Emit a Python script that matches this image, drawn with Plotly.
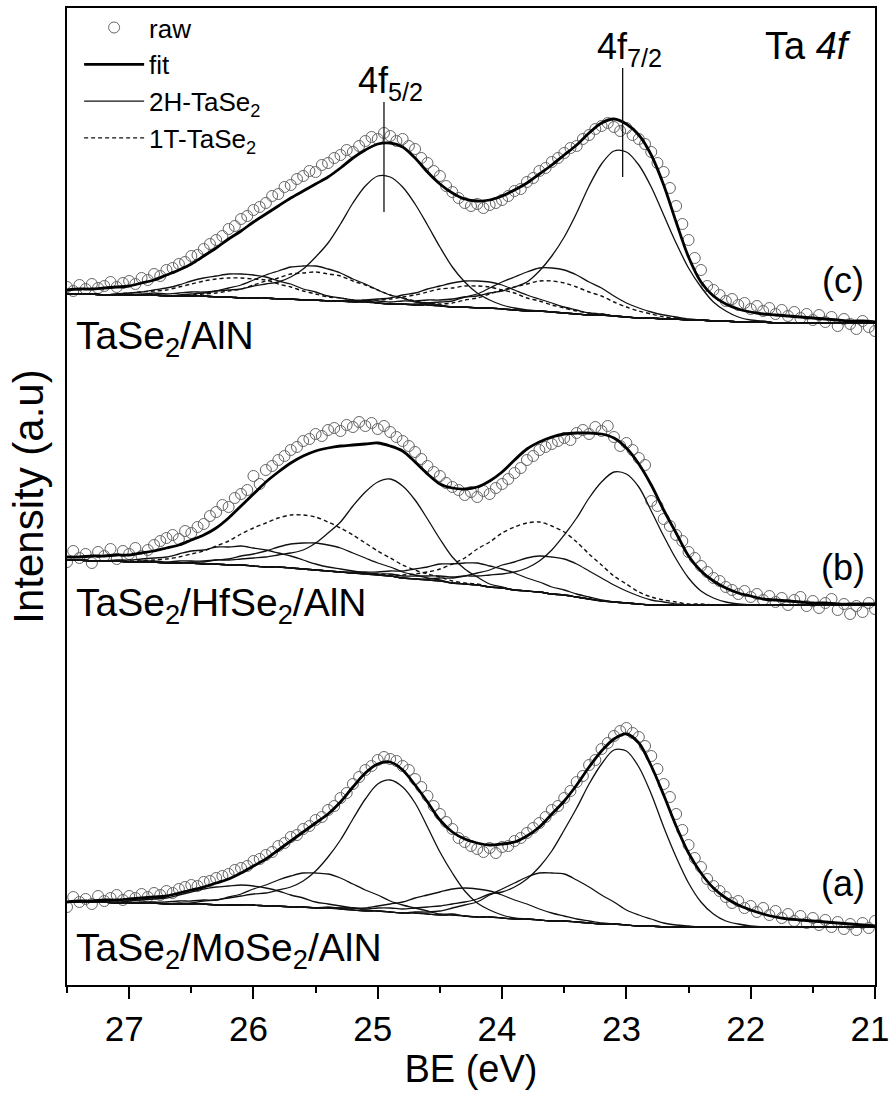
import plotly.graph_objects as go

# ---------------- x grids (binding energy, eV) ----------------
BE = [27.5, 27.4, 27.3, 27.2, 27.1, 27.0, 26.9, 26.8, 26.7, 26.6,
      26.5, 26.4, 26.3, 26.2, 26.1, 26.0, 25.9, 25.8, 25.7, 25.6,
      25.5, 25.4, 25.3, 25.2, 25.1, 25.0, 24.9, 24.8, 24.7, 24.6,
      24.5, 24.4, 24.3, 24.2, 24.1, 24.0, 23.9, 23.8, 23.7, 23.6,
      23.5, 23.4, 23.3, 23.2, 23.1, 23.0, 22.9, 22.8, 22.7, 22.6,
      22.5, 22.4, 22.3, 22.2, 22.1, 22.0, 21.9, 21.8, 21.7, 21.6,
      21.5, 21.4, 21.3, 21.2, 21.1, 21.0]

BE_RAW = [27.50, 27.45, 27.40, 27.35, 27.30, 27.25, 27.20, 27.15, 27.10, 27.05,
          27.00, 26.95, 26.90, 26.85, 26.80, 26.75, 26.70, 26.65, 26.60, 26.55,
          26.50, 26.45, 26.40, 26.35, 26.30, 26.25, 26.20, 26.15, 26.10, 26.05,
          26.00, 25.95, 25.90, 25.85, 25.80, 25.75, 25.70, 25.65, 25.60, 25.55,
          25.50, 25.45, 25.40, 25.35, 25.30, 25.25, 25.20, 25.15, 25.10, 25.05,
          25.00, 24.95, 24.90, 24.85, 24.80, 24.75, 24.70, 24.65, 24.60, 24.55,
          24.50, 24.45, 24.40, 24.35, 24.30, 24.25, 24.20, 24.15, 24.10, 24.05,
          24.00, 23.95, 23.90, 23.85, 23.80, 23.75, 23.70, 23.65, 23.60, 23.55,
          23.50, 23.45, 23.40, 23.35, 23.30, 23.25, 23.20, 23.15, 23.10, 23.05,
          23.00, 22.95, 22.90, 22.85, 22.80, 22.75, 22.70, 22.65, 22.60, 22.55,
          22.50, 22.45, 22.40, 22.35, 22.30, 22.25, 22.20, 22.15, 22.10, 22.05,
          22.00, 21.95, 21.90, 21.85, 21.80, 21.75, 21.70, 21.65, 21.60, 21.55,
          21.50, 21.45, 21.40, 21.35, 21.30, 21.25, 21.20, 21.15, 21.10, 21.05,
          21.00]

# ---------------- (c) TaSe2/AlN (offset, arbitrary units) ----------------
raw_c = [713, 709, 715, 711, 716, 712, 714, 718, 713, 717,
         719, 716, 722, 720, 726, 724, 730, 732, 736, 738,
         744, 745, 751, 756, 760, 764, 771, 774, 781, 784,
         790, 793, 797, 804, 806, 813, 815, 821, 824, 829,
         828, 835, 837, 842, 845, 850, 848, 854, 859, 863,
         861, 867, 864, 859, 861, 854, 851, 842, 837, 829,
         824, 814, 808, 802, 797, 794, 796, 792, 795, 797,
         800, 804, 809, 811, 818, 822, 829, 832, 838, 842,
         847, 852, 854, 861, 865, 871, 874, 877, 873, 869,
         872, 865, 861, 856, 848, 837, 828, 812, 794, 776,
         760, 742, 730, 714, 710, 705, 699, 701, 695, 697,
         691, 694, 689, 692, 686, 690, 684, 688, 682, 686,
         680, 685, 678, 683, 674, 681, 676, 671, 679, 673,
         669]
bg_c = [706, 706, 706, 705, 705, 705, 705, 705, 704, 704,
        704, 704, 703, 703, 702, 702, 702, 701, 701, 700,
        700, 699, 699, 698, 698, 697, 696, 696, 695, 695,
        694, 693, 693, 692, 692, 691, 690, 689, 689, 688,
        687, 686, 685, 685, 684, 683, 682, 682, 681, 681,
        680, 680, 679, 679, 678, 678, 678, 677, 677, 677,
        677, 677, 677, 677, 677, 677]
fit_c = [710, 711, 711, 712, 713, 714, 717, 720, 725, 730,
         736, 744, 752, 761, 769, 778, 786, 794, 802, 809,
         816, 823, 832, 842, 850, 856, 857, 853, 842, 828,
         816, 807, 801, 799, 800, 804, 810, 817, 826, 835,
         845, 855, 867, 877, 881, 876, 865, 845, 815, 778,
         743, 718, 704, 696, 691, 688, 686, 685, 684, 683,
         682, 681, 680, 679, 679, 678]
# component heights above the background
c_2h_52 = [0, 0, 0, 0, 1, 1, 1, 2, 2, 3,
           4, 4, 6, 7, 9, 12, 14, 17, 22, 31,
           43, 58, 77, 99, 116, 127, 127, 117, 101, 80,
           59, 40, 25, 15, 8, 4, 2, 1, 0, 0,
           0, 0, 0, 0, 0, 0, 0, 0, 0, 0,
           0, 0, 0, 0, 0, 0, 0, 0, 0, 0,
           0, 0, 0, 0, 0, 0]
c_2h_72 = [0, 0, 0, 0, 0, 0, 0, 0, 0, 0,
           0, 0, 0, 0, 0, 0, 0, 0, 0, 0,
           0, 0, 0, 1, 1, 2, 2, 3, 4, 5,
           6, 8, 10, 12, 15, 18, 23, 29, 40, 56,
           76, 101, 129, 151, 165, 165, 153, 131, 104, 76,
           52, 33, 19, 10, 5, 2, 1, 0, 0, 0,
           0, 0, 0, 0, 0, 0]
c_s1 = [0, 0, 0, 0, 1, 2, 3, 5, 8, 11,
        15, 18, 21, 23, 24, 23, 21, 18, 15, 11,
        8, 5, 3, 2, 1, 0, 0, 0, 0, 0,
        0, 0, 0, 0, 0, 0, 0, 0, 0, 0,
        0, 0, 0, 0, 0, 0, 0, 0, 0, 0,
        0, 0, 0, 0, 0, 0, 0, 0, 0, 0,
        0, 0, 0, 0, 0, 0]
c_d1 = [0, 0, 0, 0, 1, 2, 3, 4, 6, 9,
        12, 15, 18, 19, 20, 19, 18, 15, 12, 9,
        6, 4, 3, 2, 1, 0, 0, 0, 0, 0,
        0, 0, 0, 0, 0, 0, 0, 0, 0, 0,
        0, 0, 0, 0, 0, 0, 0, 0, 0, 0,
        0, 0, 0, 0, 0, 0, 0, 0, 0, 0,
        0, 0, 0, 0, 0, 0]
c_s2 = [0, 0, 0, 0, 0, 0, 0, 0, 0, 1,
        2, 3, 6, 9, 13, 18, 23, 28, 32, 34,
        34, 32, 28, 23, 18, 13, 9, 6, 3, 2,
        1, 0, 0, 0, 0, 0, 0, 0, 0, 0,
        0, 0, 0, 0, 0, 0, 0, 0, 0, 0,
        0, 0, 0, 0, 0, 0, 0, 0, 0, 0,
        0, 0, 0, 0, 0, 0]
c_d2 = [0, 0, 0, 0, 0, 0, 0, 0, 0, 0,
        1, 2, 4, 6, 9, 13, 17, 21, 25, 27,
        28, 27, 25, 21, 17, 13, 9, 6, 4, 2,
        1, 0, 0, 0, 0, 0, 0, 0, 0, 0,
        0, 0, 0, 0, 0, 0, 0, 0, 0, 0,
        0, 0, 0, 0, 0, 0, 0, 0, 0, 0,
        0, 0, 0, 0, 0, 0]
c_s3 = [0, 0, 0, 0, 0, 0, 0, 0, 0, 0,
        0, 0, 0, 0, 0, 0, 0, 0, 0, 0,
        0, 0, 0, 1, 2, 4, 6, 9, 12, 16,
        20, 24, 26, 27, 26, 24, 20, 16, 12, 9,
        6, 4, 2, 1, 0, 0, 0, 0, 0, 0,
        0, 0, 0, 0, 0, 0, 0, 0, 0, 0,
        0, 0, 0, 0, 0, 0]
c_d3 = [0, 0, 0, 0, 0, 0, 0, 0, 0, 0,
        0, 0, 0, 0, 0, 0, 0, 0, 0, 0,
        0, 0, 0, 1, 2, 3, 5, 7, 10, 13,
        17, 19, 21, 22, 21, 19, 17, 13, 10, 7,
        5, 3, 2, 1, 0, 0, 0, 0, 0, 0,
        0, 0, 0, 0, 0, 0, 0, 0, 0, 0,
        0, 0, 0, 0, 0, 0]
c_s4 = [0, 0, 0, 0, 0, 0, 0, 0, 0, 0,
        0, 0, 0, 0, 0, 0, 0, 0, 0, 0,
        0, 0, 0, 0, 0, 0, 0, 0, 1, 2,
        4, 6, 10, 14, 20, 27, 33, 39, 43, 44,
        43, 39, 33, 27, 20, 14, 10, 6, 4, 2,
        1, 0, 0, 0, 0, 0, 0, 0, 0, 0,
        0, 0, 0, 0, 0, 0]
c_d4 = [0, 0, 0, 0, 0, 0, 0, 0, 0, 0,
        0, 0, 0, 0, 0, 0, 0, 0, 0, 0,
        0, 0, 0, 0, 0, 0, 0, 0, 0, 1,
        2, 4, 7, 10, 14, 19, 23, 27, 30, 31,
        30, 27, 23, 19, 14, 10, 7, 4, 2, 1,
        0, 0, 0, 0, 0, 0, 0, 0, 0, 0,
        0, 0, 0, 0, 0, 0]

# ---------------- (b) TaSe2/HfSe2/AlN ----------------
raw_b = [438, 449, 442, 446, 437, 448, 444, 451, 441, 449,
         446, 452, 444, 450, 455, 459, 462, 465, 461, 469,
         467, 473, 476, 484, 488, 495, 493, 502, 506, 510,
         524, 516, 530, 534, 540, 544, 550, 553, 559, 561,
         566, 564, 570, 572, 569, 575, 573, 578, 574, 577,
         571, 574, 568, 563, 559, 554, 548, 541, 534, 528,
         524, 517, 513, 510, 505, 508, 503, 509, 506, 512,
         516, 521, 527, 532, 540, 544, 550, 553, 556, 559,
         562, 560, 567, 570, 566, 573, 569, 574, 563, 554,
         557, 550, 542, 535, 499, 494, 481, 474, 465, 459,
         448, 442, 434, 428, 422, 419, 413, 410, 406, 409,
         403, 406, 400, 404, 398, 402, 395, 400, 403, 394,
         399, 392, 397, 401, 390, 396, 386, 394, 388, 397,
         391]
bg_b = [440, 440, 439, 439, 439, 438, 438, 438, 437, 437,
        437, 436, 436, 435, 435, 434, 433, 433, 432, 431,
        430, 429, 428, 427, 426, 425, 424, 422, 421, 420,
        419, 417, 416, 415, 413, 412, 410, 409, 408, 406,
        405, 403, 401, 399, 398, 397, 396, 395, 395, 395,
        395, 395, 395, 395, 395, 395, 395, 395, 395, 395,
        395, 395, 395, 395, 395, 395]
fit_b = [443, 443, 444, 444, 445, 445, 447, 449, 452, 455,
         460, 465, 472, 482, 494, 506, 518, 528, 537, 544,
         549, 552, 554, 555, 556, 557, 554, 549, 538, 526,
         516, 512, 511, 513, 519, 528, 540, 551, 558, 563,
         566, 567, 567, 566, 562, 552, 536, 515, 490, 467,
         444, 429, 419, 412, 407, 404, 401, 400, 399, 398,
         397, 397, 396, 396, 396, 396]
b_2h_52 = [0, 0, 0, 0, 0, 0, 1, 1, 1, 2,
           2, 3, 4, 5, 6, 8, 10, 12, 15, 19,
           27, 38, 50, 67, 82, 93, 97, 92, 79, 61,
           42, 26, 15, 8, 3, 1, 0, 0, 0, 0,
           0, 0, 0, 0, 0, 0, 0, 0, 0, 0,
           0, 0, 0, 0, 0, 0, 0, 0, 0, 0,
           0, 0, 0, 0, 0, 0]
b_2h_72 = [0, 0, 0, 0, 0, 0, 0, 0, 0, 0,
           0, 0, 0, 0, 0, 0, 0, 0, 0, 0,
           0, 0, 0, 0, 1, 1, 2, 2, 3, 4,
           5, 6, 8, 9, 12, 14, 18, 23, 31, 44,
           60, 79, 101, 119, 130, 129, 117, 94, 69, 46,
           27, 14, 7, 3, 1, 0, 0, 0, 0, 0,
           0, 0, 0, 0, 0, 0]
b_1t_52 = [0, 0, 0, 0, 0, 1, 1, 2, 4, 6,
           9, 13, 18, 24, 31, 38, 44, 49, 53, 54,
           53, 49, 44, 38, 31, 24, 18, 13, 9, 6,
           4, 2, 1, 1, 0, 0, 0, 0, 0, 0,
           0, 0, 0, 0, 0, 0, 0, 0, 0, 0,
           0, 0, 0, 0, 0, 0, 0, 0, 0, 0,
           0, 0, 0, 0, 0, 0]
b_1t_72 = [0, 0, 0, 0, 0, 0, 0, 0, 0, 0,
           0, 0, 0, 0, 0, 0, 0, 0, 0, 0,
           0, 0, 0, 0, 0, 1, 1, 3, 5, 8,
           12, 19, 26, 36, 45, 55, 63, 68, 70, 68,
           63, 55, 45, 36, 26, 19, 12, 8, 5, 3,
           1, 1, 0, 0, 0, 0, 0, 0, 0, 0,
           0, 0, 0, 0, 0, 0]
b_s1 = [0, 0, 0, 0, 1, 2, 3, 4, 6, 9,
        12, 14, 17, 18, 19, 18, 17, 14, 12, 9,
        6, 4, 3, 2, 1, 0, 0, 0, 0, 0,
        0, 0, 0, 0, 0, 0, 0, 0, 0, 0,
        0, 0, 0, 0, 0, 0, 0, 0, 0, 0,
        0, 0, 0, 0, 0, 0, 0, 0, 0, 0,
        0, 0, 0, 0, 0, 0]
b_s2 = [0, 0, 0, 0, 0, 0, 0, 0, 0, 0,
        1, 2, 4, 6, 9, 12, 16, 20, 24, 26,
        27, 26, 24, 20, 16, 12, 9, 6, 4, 2,
        1, 0, 0, 0, 0, 0, 0, 0, 0, 0,
        0, 0, 0, 0, 0, 0, 0, 0, 0, 0,
        0, 0, 0, 0, 0, 0, 0, 0, 0, 0,
        0, 0, 0, 0, 0, 0]
b_s3 = [0, 0, 0, 0, 0, 0, 0, 0, 0, 0,
        0, 0, 0, 0, 0, 0, 0, 0, 0, 0,
        0, 0, 0, 1, 2, 3, 5, 7, 10, 13,
        17, 19, 21, 22, 21, 19, 17, 13, 10, 7,
        5, 3, 2, 1, 0, 0, 0, 0, 0, 0,
        0, 0, 0, 0, 0, 0, 0, 0, 0, 0,
        0, 0, 0, 0, 0, 0]
b_s4 = [0, 0, 0, 0, 0, 0, 0, 0, 0, 0,
        0, 0, 0, 0, 0, 0, 0, 0, 0, 0,
        0, 0, 0, 0, 0, 0, 0, 0, 0, 1,
        3, 5, 8, 12, 17, 23, 28, 33, 36, 37,
        36, 33, 28, 23, 17, 12, 8, 5, 3, 1,
        0, 0, 0, 0, 0, 0, 0, 0, 0, 0,
        0, 0, 0, 0, 0, 0]

# ---------------- (a) TaSe2/MoSe2/AlN ----------------
raw_a = [93, 103, 98, 101, 96, 104, 99, 102, 105, 100,
         104, 102, 106, 103, 107, 105, 109, 107, 111, 113,
         115, 114, 118, 119, 122, 124, 126, 130, 132, 134,
         139, 141, 145, 148, 154, 157, 163, 165, 171, 174,
         180, 183, 190, 194, 202, 207, 216, 223, 230, 234,
         240, 243, 241, 239, 234, 230, 221, 213, 204, 194,
         186, 178, 171, 162, 158, 154, 151, 148, 152, 147,
         153, 154, 159, 162, 167, 172, 177, 183, 190, 194,
         202, 209, 218, 224, 235, 240, 251, 257, 264, 269,
         272, 267, 263, 254, 244, 231, 216, 203, 186, 170,
         155, 142, 133, 121, 114, 109, 103, 97, 99, 92,
         94, 88, 92, 85, 89, 82, 86, 79, 84, 77,
         82, 75, 80, 73, 78, 71, 76, 70, 77, 72,
         79]
bg_a = [98, 98, 98, 98, 97, 97, 97, 97, 96, 96,
        96, 96, 95, 95, 95, 95, 94, 94, 93, 93,
        92, 92, 91, 90, 89, 89, 88, 87, 87, 86,
        85, 85, 84, 83, 83, 82, 81, 81, 80, 79,
        79, 78, 77, 76, 76, 75, 74, 74, 73, 73,
        73, 73, 73, 73, 73, 73, 73, 73, 73, 73,
        73, 73, 73, 73, 73, 73]
fit_a = [98, 99, 99, 100, 100, 101, 102, 103, 104, 107,
         110, 113, 117, 121, 127, 134, 141, 150, 159, 168,
         177, 186, 198, 213, 227, 236, 238, 230, 215, 198,
         180, 168, 161, 157, 155, 156, 158, 164, 173, 186,
         199, 215, 233, 249, 261, 266, 257, 234, 205, 174,
         147, 127, 112, 102, 95, 90, 86, 83, 81, 80,
         79, 78, 77, 76, 75, 74]
a_2h_52 = [0, 0, 0, 0, 0, 0, 1, 1, 2, 3,
           3, 4, 5, 7, 9, 11, 13, 16, 20, 26,
           37, 51, 69, 91, 112, 127, 132, 126, 110, 87,
           63, 42, 25, 14, 7, 3, 1, 0, 0, 0,
           0, 0, 0, 0, 0, 0, 0, 0, 0, 0,
           0, 0, 0, 0, 0, 0, 0, 0, 0, 0,
           0, 0, 0, 0, 0, 0]
a_2h_72 = [0, 0, 0, 0, 0, 0, 0, 0, 0, 0,
           0, 0, 0, 0, 0, 0, 0, 0, 0, 0,
           0, 1, 1, 2, 2, 3, 4, 4, 5, 7,
           9, 11, 14, 18, 23, 26, 32, 40, 53, 70,
           91, 114, 139, 160, 174, 174, 159, 132, 100, 70,
           44, 25, 13, 6, 3, 1, 0, 0, 0, 0,
           0, 0, 0, 0, 0, 0]
a_s1 = [0, 0, 0, 0, 1, 2, 3, 4, 6, 9,
        12, 15, 18, 19, 20, 19, 18, 15, 12, 9,
        6, 4, 3, 2, 1, 0, 0, 0, 0, 0,
        0, 0, 0, 0, 0, 0, 0, 0, 0, 0,
        0, 0, 0, 0, 0, 0, 0, 0, 0, 0,
        0, 0, 0, 0, 0, 0, 0, 0, 0, 0,
        0, 0, 0, 0, 0, 0]
a_s2 = [0, 0, 0, 0, 0, 0, 0, 0, 0, 1,
        1, 3, 5, 8, 11, 16, 21, 26, 31, 34,
        35, 34, 31, 26, 21, 16, 11, 8, 5, 3,
        1, 1, 0, 0, 0, 0, 0, 0, 0, 0,
        0, 0, 0, 0, 0, 0, 0, 0, 0, 0,
        0, 0, 0, 0, 0, 0, 0, 0, 0, 0,
        0, 0, 0, 0, 0, 0]
a_s3 = [0, 0, 0, 0, 0, 0, 0, 0, 0, 0,
        0, 0, 0, 0, 0, 0, 0, 0, 0, 0,
        0, 0, 1, 2, 3, 5, 8, 11, 15, 19,
        23, 26, 28, 28, 26, 23, 19, 15, 11, 8,
        5, 3, 2, 1, 0, 0, 0, 0, 0, 0,
        0, 0, 0, 0, 0, 0, 0, 0, 0, 0,
        0, 0, 0, 0, 0, 0]
a_s4 = [0, 0, 0, 0, 0, 0, 0, 0, 0, 0,
        0, 0, 0, 0, 0, 0, 0, 0, 0, 0,
        0, 0, 0, 0, 0, 0, 0, 0, 1, 2,
        4, 7, 11, 15, 22, 29, 36, 42, 47, 48,
        47, 42, 36, 29, 22, 15, 11, 7, 4, 2,
        1, 0, 0, 0, 0, 0, 0, 0, 0, 0,
        0, 0, 0, 0, 0, 0]

# ---------------- labels ----------------
x_ticks = [27, 26, 25, 24, 23, 22, 21]
x_tick_labels = ["27", "26", "25", "24", "23", "22", "21"]
peak_marker_be = [24.95, 23.03]
peak_marker_top = [898, 932]
peak_marker_bottom = [788, 823]
peak_marker_text = ["4f<sub>5/2</sub>", "4f<sub>7/2</sub>"]
sample_names = ["TaSe<sub>2</sub>/AlN", "TaSe<sub>2</sub>/HfSe<sub>2</sub>/AlN",
                "TaSe<sub>2</sub>/MoSe<sub>2</sub>/AlN"]
panel_letters = ["(c)", "(b)", "(a)"]

for arr in [bg_c, fit_c, c_2h_52, c_2h_72, c_s1, c_d1, c_s2, c_d2, c_s3, c_d3, c_s4, c_d4,
            bg_b, fit_b, b_2h_52, b_2h_72, b_1t_52, b_1t_72, b_s1, b_s2, b_s3, b_s4,
            bg_a, fit_a, a_2h_52, a_2h_72, a_s1, a_s2, a_s3, a_s4]:
    assert len(arr) == len(BE), len(arr)
for arr in [raw_a, raw_b, raw_c]:
    assert len(arr) == len(BE_RAW), len(arr)

FONT = "Liberation Sans, Arial, sans-serif"
LINE_C = "#111111"

fig = go.Figure()

# raw data
for i, raw in enumerate([raw_c, raw_b, raw_a]):
    fig.add_trace(go.Scatter(
        x=BE_RAW, y=raw, mode="markers", name="raw",
        showlegend=(i == 0), legendrank=1,
        marker=dict(symbol="circle-open", size=11, color="#666666",
                    line=dict(width=1, color="#666666"))))

def add_line(bg, h, dash, name, show, rank, width=1.3):
    y = [b + v for b, v in zip(bg, h)]
    fig.add_trace(go.Scatter(
        x=BE, y=y, mode="lines", name=name, showlegend=show, legendrank=rank,
        line=dict(color=LINE_C, width=width, dash=dash, shape="spline", smoothing=0.9)))

zero = [0] * len(BE)
name_2h = "2H-TaSe<sub>2</sub>"
name_1t = "1T-TaSe<sub>2</sub>"
DASH = "4px,3px"

# backgrounds
for bg in [bg_c, bg_b, bg_a]:
    add_line(bg, zero, "solid", "bg", False, 9)

# (c)
add_line(bg_c, c_2h_52, "solid", name_2h, True, 3)
add_line(bg_c, c_2h_72, "solid", name_2h, False, 3)
for h in [c_s1, c_s2, c_s3, c_s4]:
    add_line(bg_c, h, "solid", name_2h, False, 3)
add_line(bg_c, c_d2, DASH, name_1t, True, 4, 1.4)
for h in [c_d1, c_d3, c_d4]:
    add_line(bg_c, h, DASH, name_1t, False, 4, 1.4)
# (b)
for h in [b_2h_52, b_2h_72, b_s1, b_s2, b_s3, b_s4]:
    add_line(bg_b, h, "solid", name_2h, False, 3)
for h in [b_1t_52, b_1t_72]:
    add_line(bg_b, h, DASH, name_1t, False, 4, 1.4)
# (a)
for h in [a_2h_52, a_2h_72, a_s1, a_s2, a_s3, a_s4]:
    add_line(bg_a, h, "solid", name_2h, False, 3)

# fits
for i, fit in enumerate([fit_c, fit_b, fit_a]):
    fig.add_trace(go.Scatter(
        x=BE, y=fit, mode="lines", name="fit", showlegend=(i == 0), legendrank=2,
        line=dict(color="#000000", width=2.8, shape="spline", smoothing=0.9)))

# peak marker lines
for be, top, bot in zip(peak_marker_be, peak_marker_top, peak_marker_bottom):
    fig.add_trace(go.Scatter(x=[be, be], y=[top, bot], mode="lines", showlegend=False,
                             line=dict(color=LINE_C, width=1.3)))

annotations = []
for be, top, txt in zip(peak_marker_be, peak_marker_top, peak_marker_text):
    annotations.append(dict(x=be, y=top, xref="x", yref="y", text=txt, showarrow=False,
                            xanchor="left", yanchor="bottom", xshift=-28, yshift=-6,
                            font=dict(size=36, family=FONT, color="black")))
for name, yv in zip(sample_names, [662, 395, 50]):
    annotations.append(dict(x=27.44, y=yv, xref="x", yref="y", text=name, showarrow=False,
                            xanchor="left", yanchor="middle",
                            font=dict(size=39, family=FONT, color="black")))
for letter, yv in zip(panel_letters, [720, 433, 117]):
    annotations.append(dict(x=21.26, y=yv, xref="x", yref="y", text=letter, showarrow=False,
                            xanchor="center", yanchor="middle",
                            font=dict(size=36, family=FONT, color="black")))
annotations.append(dict(x=21.18, y=954, xref="x", yref="y", text="Ta <i>4f</i>",
                        showarrow=False, xanchor="right", yanchor="middle",
                        font=dict(size=38, family=FONT, color="black")))

fig.update_layout(
    width=893, height=1099,
    margin=dict(l=67, r=18, t=8, b=114, autoexpand=False),
    paper_bgcolor="white", plot_bgcolor="white",
    font=dict(family=FONT, color="black"),
    annotations=annotations,
    legend=dict(x=0.015, y=1.004, xanchor="left", yanchor="top",
                bgcolor="rgba(0,0,0,0)", font=dict(size=26, family=FONT),
                itemwidth=60, tracegroupgap=0),
    xaxis=dict(range=[27.5, 21.0], tickvals=x_ticks, ticktext=x_tick_labels,
               ticks="outside", ticklen=12, tickwidth=2, tickcolor="black",
               minor=dict(dtick=0.5, ticks="outside", ticklen=6, tickwidth=2, tickcolor="black"),
               showline=True, linewidth=2, linecolor="black", mirror=True,
               showgrid=False, zeroline=False, ticklabeloverflow="allow", automargin=False,
               tickfont=dict(size=35, family=FONT), ticklabelstandoff=0, ticklabelshift=5,
               title=dict(text="BE (eV)", font=dict(size=38, family=FONT), standoff=0)),
    yaxis=dict(range=[15, 992], showticklabels=False, ticks="", automargin=False,
               showline=True, linewidth=2, linecolor="black", mirror=True,
               showgrid=False, zeroline=False,
               title=dict(text="Intensity (a.u)", font=dict(size=42, family=FONT), standoff=8)),
)

fig.write_html("out.html")
